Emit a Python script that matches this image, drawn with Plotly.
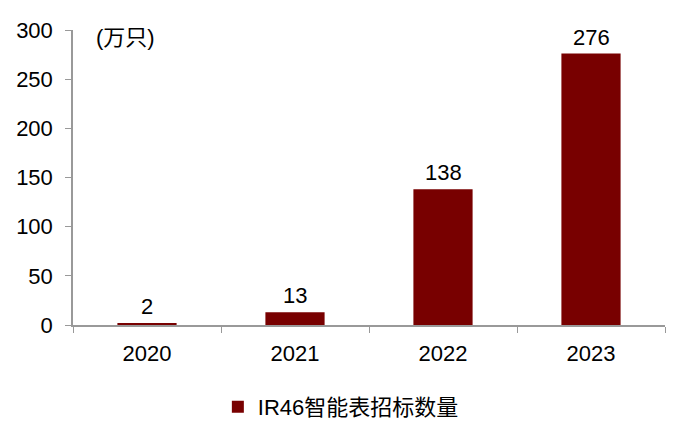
import plotly.graph_objects as go

years = ["2020", "2021", "2022", "2023"]
values = [2, 13, 138, 276]
series_name = "IR46智能表招标数量"
unit_label = "(万只)"
y_ticks = [0, 50, 100, 150, 200, 250, 300]

font_family = "Liberation Sans, Arial, Noto Sans CJK SC, sans-serif"
bar_color = "#780000"
fs = 22

fig = go.Figure()
fig.add_trace(go.Bar(
    x=years, y=values, name=series_name,
    marker=dict(color=bar_color, line=dict(width=0)),
    width=0.4,
    showlegend=True,
))
for i, v in enumerate(values):
    fig.add_annotation(
        x=i, y=v, text=str(v), showarrow=False,
        xanchor="center", yanchor="bottom", yshift=2,
        font=dict(size=fs, family=font_family, color="#000000"),
    )

# page body has an 8px default margin, so the figure is sized/offset to compensate
fig.update_layout(
    width=692, height=422,
    margin=dict(l=65, r=35, t=22, b=105, autoexpand=False),
    paper_bgcolor="white", plot_bgcolor="white",
    font=dict(family=font_family, size=fs, color="#000000"),
    showlegend=True,
    legend=dict(orientation="h", xref="container", yref="container",
                x=0.481, xanchor="center", y=0.0545, yanchor="middle",
                font=dict(size=fs, family=font_family), itemwidth=30),
    bargap=0.6,
)
fig.update_yaxes(
    range=[0, 300], tickvals=y_ticks, showgrid=False, zeroline=False,
    showline=True, linecolor="#999999", linewidth=1.5,
    ticks="outside", ticklen=6, tickcolor="#999999",
    tickfont=dict(size=fs), ticklabelstandoff=8, automargin=False,
)
fig.update_xaxes(
    type="category", categoryorder="array", categoryarray=years,
    range=[-0.5, len(years) - 0.5],
    showgrid=False, showline=True, linecolor="#999999", linewidth=1.5,
    ticks="outside", ticklen=6, tickcolor="#999999", tickson="boundaries",
    tickfont=dict(size=fs), ticklabelstandoff=8, tickangle=0, automargin=False,
)
fig.add_annotation(
    text=unit_label, xref="paper", yref="paper", x=0.036, y=0.976,
    xanchor="left", yanchor="middle", showarrow=False,
    font=dict(size=fs, family=font_family),
)

fig.write_html("out.html")
